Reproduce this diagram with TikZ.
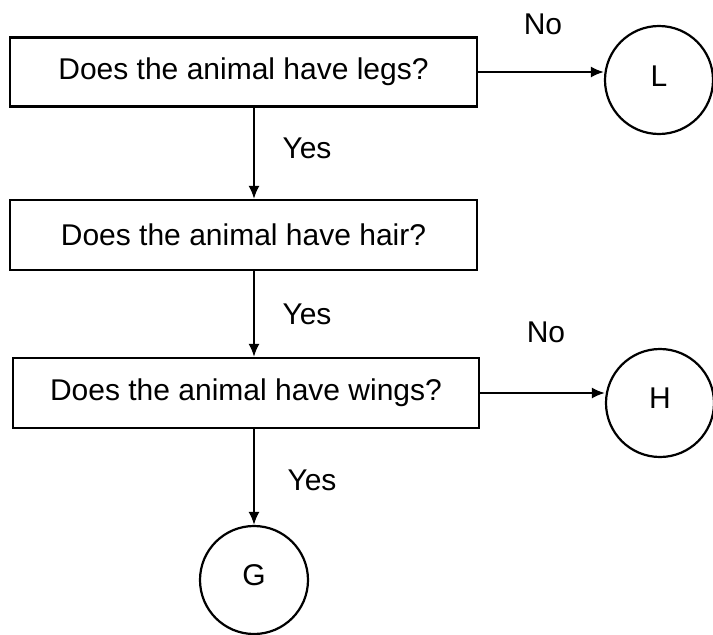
\documentclass[tikz,border=0pt]{standalone}
\usepackage{fontspec}
\setmainfont{Liberation Sans}
\usetikzlibrary{arrows.meta}
\begin{document}
\begin{tikzpicture}[x=1pt,y=-1pt,
  qbox/.style={draw,line width=2.2pt,rectangle,inner sep=0pt,font=\fontsize{30}{34}\selectfont},
  endc/.style={draw,line width=2.2pt,circle,inner sep=0pt,minimum size=108pt,font=\fontsize{30}{34}\selectfont},
  lbl/.style={font=\fontsize{30}{34}\selectfont,inner sep=0pt},
  arr/.style={line width=2pt,-{Latex[length=13pt,width=11pt]}}]
\useasboundingbox (0,0) rectangle (713,635);
\clip (0,0) rectangle (713,635);
\fill[white] (0,0) rectangle (713,635);
\node[qbox,minimum width=467pt,minimum height=69pt] (b1) at (243.5,72) {Does the animal have legs?};
\node[qbox,minimum width=467pt,minimum height=70pt] (b2) at (243.5,235) {Does the animal have hair?};
\node[qbox,minimum width=466pt,minimum height=70pt] (b3) at (246,393) {Does the animal have wings?};
\node[endc] (L) at (659,80) {\raisebox{8pt}{L}};
\node[endc] (H) at (660,403) {\raisebox{10pt}{H}};
\node[endc] (G) at (254,580) {\raisebox{10pt}{G}};
\draw[arr] (b1.east) -- (b1.east -| L.west);
\draw[arr] (b3.east) -- (b3.east -| H.west);
\draw[arr] (b1.south -| G.north) -- (b2.north -| G.north);
\draw[arr] (b2.south -| G.north) -- (b3.north -| G.north);
\draw[arr] (b3.south -| G.north) -- (G.north);
\node[lbl] (no1) at (543,24) {No};
\node[lbl] (no2) at (546,332) {No};
\node[lbl] (y1) at (307,148) {Yes};
\node[lbl] (y2) at (307,314) {Yes};
\node[lbl] (y3) at (312,480) {Yes};
\end{tikzpicture}
\end{document}
